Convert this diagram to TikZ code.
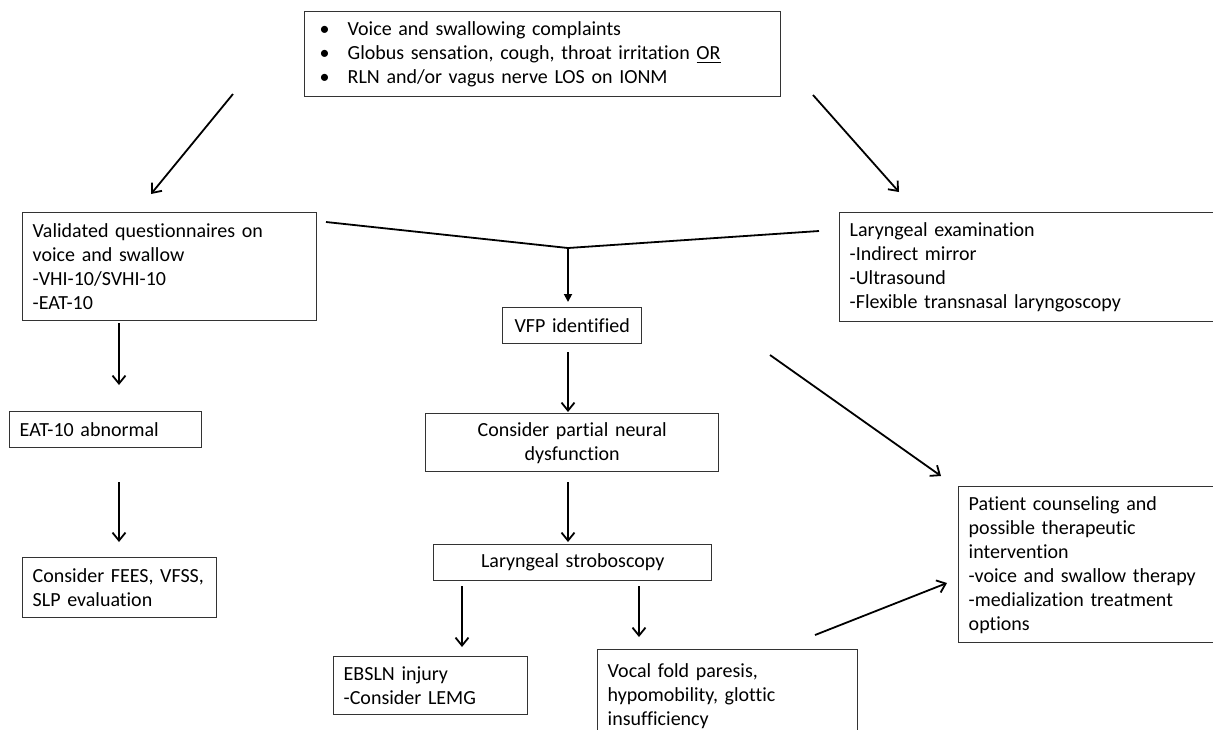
\documentclass[tikz,border=0pt]{standalone}
\usepackage{fontspec}
\setmainfont{Carlito}[Ligatures=NoCommon]
\usetikzlibrary{arrows.meta}

\tikzset{
  stage/.style={rectangle,draw=black!80,line width=0.7pt,anchor=north west,inner xsep=5pt,inner ysep=2pt,align=left},
  flow/.style={-{Straight Barb[length=4pt,width=6.5pt]},line width=0.9pt},
  merge/.style={-{Triangle[length=4pt,width=4pt]},line width=0.9pt}
}

\begin{document}
\begin{tikzpicture}[x=0.5pt,y=-0.5pt]
    \clip (0,0) rectangle (1213,729);

    % Einstieg
    \node[stage,text width=228pt,minimum height=42.5pt] (complaints) at (304,11) {
        \hspace*{2.5pt}\makebox[14pt][l]{\textbullet}Voice and swallowing complaints\\
        \hspace*{2.5pt}\makebox[14pt][l]{\textbullet}Globus sensation, cough, throat irritation \underline{OR}\\
        \hspace*{2.5pt}\makebox[14pt][l]{\textbullet}RLN and/or vagus nerve LOS on IONM
    };

    % linke Spalte
    \node[stage,text width=137pt,minimum height=54pt] (quest) at (22,212) {
        Validated questionnaires on\\
        voice and swallow\\
        -VHI-10/SVHI-10\\
        -EAT-10
    };
    \node[stage,text width=86pt,minimum height=18pt] (eat) at (9,411) {EAT-10 abnormal};
    \node[stage,text width=87pt,minimum height=30pt] (fees) at (22,557) {
        Consider FEES, VFSS,\\
        SLP evaluation
    };

    % rechte Spalte
    \node[stage,text width=186pt,minimum height=54.5pt] (exam) at (839,212) {
        Laryngeal examination\\
        -Indirect mirror\\
        -Ultrasound\\
        -Flexible transnasal laryngoscopy
    };
    \node[stage,text width=126pt,minimum height=78pt] (counsel) at (958,486) {
        Patient counseling and\\
        possible therapeutic\\
        intervention\\
        -voice and swallow therapy\\
        -medialization treatment\\
        options
    };

    % Mitte
    \node[stage,align=center,text width=59.5pt,minimum height=18pt] (vfp) at (502,307) {VFP identified};
    \node[stage,align=center,text width=136.5pt,minimum height=29pt] (partial) at (425,413) {
        Consider partial neural\\
        dysfunction
    };
    \node[stage,align=center,text width=129pt,minimum height=18pt] (strobo) at (433,544) {Laryngeal stroboscopy};
    \node[stage,text width=87pt,minimum height=29pt] (ebsln) at (333,656) {
        EBSLN injury\\
        -Consider LEMG
    };
    \node[stage,text width=120pt,minimum height=46pt] (paresis) at (597,649) {
        Vocal fold paresis,\\
        hypomobility, glottic\\
        insufficiency
    };

    % Pfeilenden
    \coordinate (complaintsL) at (233,94);
    \coordinate (questIn) at (151,194);
    \coordinate (complaintsR) at (813,95);
    \coordinate (examIn) at (899,192);
    \coordinate (questOut) at (326,222);
    \coordinate (join) at (568,248);
    \coordinate (examOut) at (819,231);
    \coordinate (vfpIn) at (568,302);
    \coordinate (questDown) at (119,323);
    \coordinate (eatIn) at (119,385);
    \coordinate (eatDown) at (119,482);
    \coordinate (feesIn) at (119,542);
    \coordinate (vfpDown) at (568,352);
    \coordinate (partialIn) at (568,412);
    \coordinate (partialDown) at (568,482);
    \coordinate (stroboIn) at (568,542);
    \coordinate (stroboL) at (462,586);
    \coordinate (ebslnIn) at (462,647);
    \coordinate (stroboR) at (639,586);
    \coordinate (paresisIn) at (639,637);
    \coordinate (vfpOut) at (770,355);
    \coordinate (counselTop) at (941,476);
    \coordinate (paresisOut) at (815,635);
    \coordinate (counselSide) at (947,583);

    % Pfeile
    \draw[flow] (complaintsL) -- (questIn);
    \draw[flow] (complaintsR) -- (examIn);
    \draw[line width=0.9pt] (questOut) -- (join) -- (examOut);
    \draw[merge] (join) -- (vfpIn);
    \draw[flow] (questDown) -- (eatIn);
    \draw[flow] (eatDown) -- (feesIn);
    \draw[flow] (vfpDown) -- (partialIn);
    \draw[flow] (partialDown) -- (stroboIn);
    \draw[flow] (stroboL) -- (ebslnIn);
    \draw[flow] (stroboR) -- (paresisIn);
    \draw[flow] (vfpOut) -- (counselTop);
    \draw[flow] (paresisOut) -- (counselSide);
\end{tikzpicture}
\end{document}
